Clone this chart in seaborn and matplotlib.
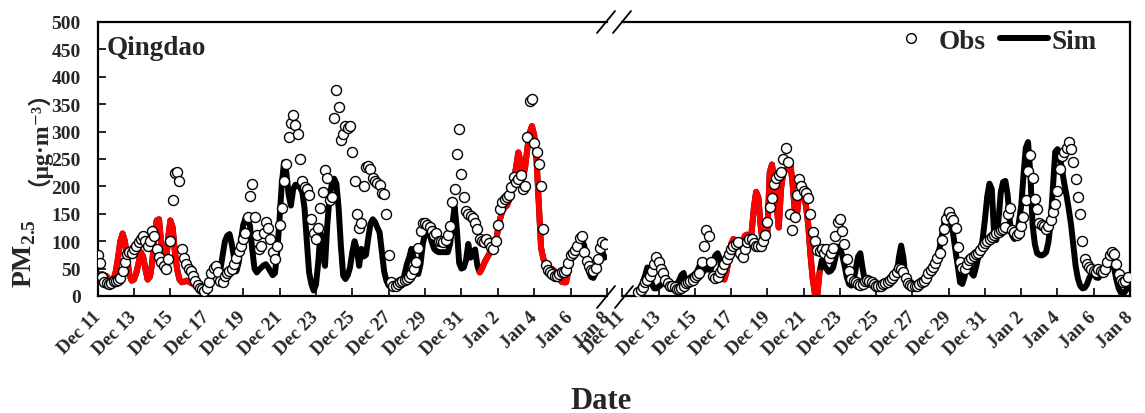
import numpy as np
import pandas as pd
import matplotlib
matplotlib.use("Agg")
import matplotlib.pyplot as plt
from matplotlib.lines import Line2D
import seaborn as sns

# 3-hourly values (8 per day), Dec 11 -> Jan 8, two winters
left_sim = [
    38, 40, 40, 38, 36, 30, 26, 30,
    45, 70, 100, 114, 100, 70, 38, 28,
    30, 42, 60, 80, 72, 50, 30, 35,
    60, 110, 138, 140, 95, 50, 55, 105,
    138, 125, 80, 48, 30, 25, 26, 28,
    26, 24, 22, 19, 14, 9, 8, 12,
    16, 22, 34, 45, 55, 50, 48, 75,
    100, 110, 113, 95, 70, 45, 60, 100,
    129, 142, 140, 128, 85, 50, 43, 48,
    52, 56, 58, 52, 45, 38, 42, 80,
    140, 205, 244, 225, 185, 165, 195, 203,
    202, 198, 190, 160, 100, 43, 22, 10,
    20, 60, 115, 80, 55, 130, 180, 205,
    214, 205, 160, 90, 37, 31, 38, 52,
    80, 100, 85, 55, 86, 72, 75, 105,
    132, 140, 135, 125, 116, 80, 45, 28,
    19, 16, 13, 18, 24, 22, 20, 40,
    58, 70, 86, 70, 45, 40, 58, 95,
    114, 116, 112, 98, 86, 82, 80, 80,
    80, 80, 80, 95, 130, 163, 120, 60,
    50, 52, 65, 95, 70, 80, 85, 55,
    43, 50, 60, 68, 75, 82, 86, 95,
    120, 141, 155, 162, 165, 176, 192, 210,
    235, 262, 245, 215, 235, 270, 298, 310,
    293, 250, 170, 88, 68, 60, 54, 50,
    49, 45, 38, 32, 26, 25, 25, 45,
    65, 75, 82, 86, 98, 102, 92, 60,
    45, 35, 33, 42, 58, 70, 80, 70,
]
left_obs = [
    74, 60, 35, 26, 24, 22, 24, 27,
    28, 30, 32, 45, 62, 76, 80, 78,
    85, 92, 98, 104, 110, 100, 92, 100,
    118, 110, 85, 72, 62, 55, 50, 68,
    100, 175, 224, 226, 210, 85, 70, 58,
    50, 45, 36, 28, 20, 15, 12, 10,
    15, 25, 42, 52, 54, 43, 28, 25,
    37, 42, 45, 50, 58, 70, 82, 92,
    104, 115, 145, 183, 205, 145, 112, 85,
    92, 115, 135, 125, 104, 80, 68, 92,
    130, 160, 210, 240, 290, 315, 330, 312,
    295, 250, 210, 198, 196, 185, 140, 115,
    104, 125, 160, 190, 230, 215, 175, 180,
    324, 375, 345, 285, 295, 310, 306, 311,
    263, 210, 150, 125, 134, 200, 236, 238,
    232, 216, 210, 206, 202, 188, 186, 150,
    74, 25, 19, 19, 22, 25, 27, 29,
    31, 34, 40, 49, 62, 88, 118, 134,
    134, 130, 126, 118, 112, 115, 100, 100,
    98, 102, 112, 128, 172, 196, 260, 305,
    222, 180, 155, 150, 146, 142, 134, 122,
    104, 100, 98, 104, 96, 90, 86, 100,
    130, 159, 172, 177, 180, 185, 198, 218,
    208, 214, 220, 195, 200, 290, 355, 360,
    280, 262, 240, 200, 122, 56, 48, 44,
    40, 37, 37, 40, 43, 43, 48, 60,
    74, 78, 84, 92, 105, 110, 80, 64,
    55, 47, 45, 52, 68, 88, 98, 95,
]
nan = np.nan
right_sim = [
    nan, nan, nan, nan, nan, nan, nan, 7,
    15, 25, 37, 52, 40, 22, 14, 14,
    17, 20, 24, 25, 21, 19, 19, 19,
    22, 28, 38, 42, 22, 31, 34, 37,
    40, 45, 55, 48, 45, 55, 48, 48,
    62, 74, 78, 68, 35, 30, 45, 70,
    95, 104, 95, 80, 70, 88, 110, 112,
    95, 115, 160, 190, 180, 129, 92, 98,
    118, 225, 240, 210, 165, 125, 195, 226,
    230, 232, 244, 210, 160, 148, 185, 192,
    185, 165, 130, 75, 31, 2, 0, 43,
    65, 56, 50, 44, 46, 52, 70, 90,
    86, 75, 56, 35, 22, 19, 28, 50,
    72, 78, 50, 28, 20, 22, 25, 22,
    19, 19, 19, 21, 24, 26, 29, 31,
    34, 37, 70, 92, 70, 30, 20, 19,
    19, 20, 23, 26, 29, 31, 34, 37,
    39, 42, 52, 70, 88, 110, 132, 150,
    148, 138, 112, 82, 55, 25, 22, 35,
    62, 60, 42, 37, 52, 70, 80, 105,
    140, 182, 205, 195, 116, 102, 140, 190,
    208, 210, 185, 135, 110, 104, 110, 135,
    165, 220, 270, 281, 225, 130, 95, 78,
    75, 74, 76, 80, 98, 135, 200, 263,
    268, 256, 230, 205, 183, 158, 130, 92,
    55, 32, 19, 14, 15, 21, 33, 40,
    43, 34, 33, 38, 42, 48, 57, 66,
    62, 50, 30, 14, 6, 4, 9, 15,
]
right_obs = [
    nan, nan, nan, nan, nan, nan, nan, 7,
    11, 16, 25, 30, 37, 45, 58, 72,
    62, 50, 42, 30, 23, 19, 19, 16,
    13, 13, 15, 19, 24, 25, 27, 30,
    34, 38, 42, 62, 92, 120, 110, 62,
    37, 32, 34, 43, 50, 58, 68, 76,
    85, 92, 95, 98, 78, 72, 86, 98,
    104, 104, 96, 92, 92, 92, 100, 112,
    135, 163, 178, 205, 215, 221, 226, 250,
    270, 245, 150, 120, 145, 185, 214, 200,
    192, 188, 178, 150, 116, 100, 84, 82,
    85, 78, 86, 70, 78, 88, 110, 135,
    140, 118, 94, 68, 45, 31, 28, 25,
    22, 20, 22, 28, 30, 27, 25, 22,
    19, 19, 19, 21, 24, 26, 29, 32,
    38, 43, 52, 50, 43, 32, 24, 20,
    19, 19, 19, 22, 25, 28, 33, 42,
    47, 53, 60, 70, 78, 102, 122, 140,
    153, 145, 138, 125, 90, 62, 52, 49,
    58, 65, 69, 73, 76, 79, 84, 92,
    96, 100, 104, 108, 112, 115, 117, 120,
    122, 126, 150, 160, 120, 116, 112, 115,
    128, 145, 175, 228, 258, 215, 177, 158,
    134, 130, 127, 122, 128, 138, 153, 168,
    192, 232, 256, 262, 270, 281, 268, 244,
    214, 180, 150, 100, 68, 58, 53, 49,
    45, 44, 49, 45, 44, 49, 62, 75,
    80, 76, 58, 40, 30, 25, 28, 34,
]
# periods where the simulation is drawn in red (days since Dec 11)
left_red_spans = [(0, 5.75), (21.0, 25.875)]
right_red_spans = [(5.5, 10.875)]

tick_days = list(range(0, 29, 2))
tick_labels = ["Dec 11", "Dec 13", "Dec 15", "Dec 17", "Dec 19", "Dec 21",
               "Dec 23", "Dec 25", "Dec 27", "Dec 29", "Dec 31",
               "Jan 2", "Jan 4", "Jan 6", "Jan 8"]

sns.set_style("ticks")
plt.rcParams["font.family"] = ["Liberation Serif", "DejaVu Serif", "Noto Sans CJK SC"]
plt.rcParams["font.weight"] = "bold"
plt.rcParams["mathtext.fontset"] = "custom"
plt.rcParams["mathtext.rm"] = "Liberation Serif:bold"
plt.rcParams["mathtext.bf"] = "Liberation Serif:bold"

W, H = 1145, 414
fig = plt.figure(figsize=(W / 100, H / 100), dpi=100)
ax_l = fig.add_axes([97.6 / W, 1 - 297 / H, (607 - 97.6) / W, 274 / H])
ax_r = fig.add_axes([622.4 / W, 1 - 297 / H, (1130 - 622.4) / W, 274 / H])

LW = 4.3
for ax, sim, obs, spans in [(ax_l, left_sim, left_obs, left_red_spans),
                            (ax_r, right_sim, right_obs, right_red_spans)]:
    df = pd.DataFrame({"day": np.arange(len(sim)) / 8, "sim": sim, "obs": obs})
    sns.lineplot(data=df, x="day", y="sim", color="black", lw=LW, ax=ax,
                 zorder=2, solid_capstyle="round")
    for a, b in spans:
        seg = df[(df["day"] >= a) & (df["day"] <= b)]
        sns.lineplot(data=seg, x="day", y="sim", color="#ff0000", lw=LW, ax=ax,
                     zorder=2.5, solid_capstyle="round")
    sns.scatterplot(data=df, x="day", y="obs", marker="o", s=52,
                    facecolor="white", edgecolor="black", linewidth=1.0,
                    ax=ax, zorder=3)
    ax.set_xlim(0, 28)
    ax.set_ylim(0, 500)
    ax.set_xticks(tick_days)
    ax.set_xticklabels(tick_labels, rotation=45, ha="right", va="center",
                       rotation_mode="anchor", fontsize=13.5, fontweight="bold")
    ax.tick_params(axis="x", direction="in", length=6, width=1.4, pad=13)
    ax.set_xlabel("")
    ax.set_ylabel("")
    for s in ax.spines.values():
        s.set_linewidth(1.6)
        s.set_color("black")

ax_l.spines["right"].set_visible(False)
ax_r.spines["left"].set_visible(False)
ax_l.set_yticks(range(0, 501, 50))
ax_l.tick_params(axis="y", direction="in", length=6, width=1.4, pad=12,
                 labelsize=14)
for t in ax_l.get_yticklabels():
    t.set_fontweight("bold")
ax_r.tick_params(axis="y", left=False, labelleft=False)

ax_l.text(0.018, 0.885, "Qingdao", transform=ax_l.transAxes, fontsize=19.5,
          fontweight="bold", va="baseline", ha="left")

handles = [Line2D([], [], marker="o", ls="none", markersize=7,
                  markerfacecolor="white", markeredgecolor="black", markeredgewidth=1.0),
           Line2D([], [], color="black", lw=LW)]
ax_r.legend(handles, ["Obs", "Sim"], loc="upper right", ncol=2, frameon=False,
            bbox_to_anchor=(0.935, 0.975), borderaxespad=0, borderpad=0,
            handlelength=1.75, handletextpad=0.15, columnspacing=0.55,
            prop={"family": "Liberation Serif", "weight": "bold", "size": 19.5})

# axis break marks
def px(x, y):
    return x / W, 1 - y / H

for cx, cy in [(606, 23), (622, 23), (606, 298), (624, 298)]:
    (x0, y0), (x1, y1) = px(cx - 9, cy + 11), px(cx + 9, cy - 11)
    fig.add_artist(Line2D([x0, x1], [y0, y1], color="black", lw=1.3,
                          transform=fig.transFigure))

fig.text(25 / W, 1 - 288 / H, "PM$_{2.5}$", rotation=90, ha="center",
         va="bottom", fontsize=20, fontweight="bold")
fig.text(26 / W, 1 - 186 / H, "（μg·m⁻³）", rotation=90, ha="center",
         va="bottom", fontsize=17, fontweight="bold",
         family=["Liberation Serif", "Noto Sans CJK SC", "DejaVu Serif"])
fig.text(601 / W, 1 - 409 / H, "Date", ha="center", va="baseline",
         fontsize=22, fontweight="bold")

fig.savefig("out.png", dpi=100)
